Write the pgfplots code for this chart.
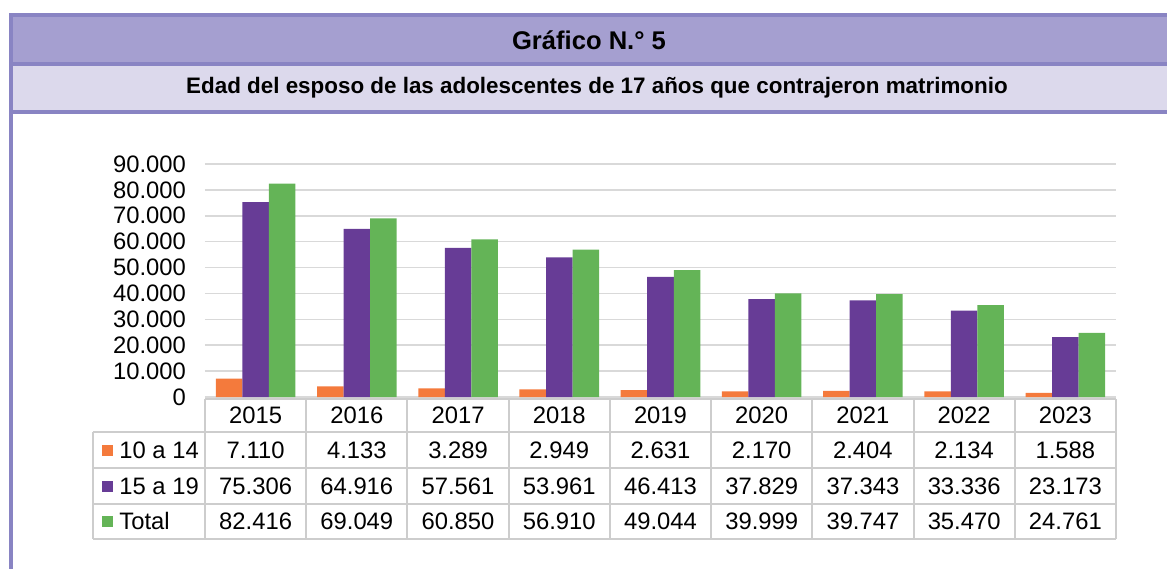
\documentclass[border=0pt]{standalone}
\usepackage{pgfplots}
\pgfplotsset{compat=1.18}
\usepackage{fontspec}
\setmainfont{Liberation Sans}
\definecolor{orangeB}{HTML}{F47A3C}
\definecolor{purpleB}{HTML}{673C96}
\definecolor{greenB}{HTML}{64B457}
\definecolor{frameline}{HTML}{8984C3}
\definecolor{bandA}{HTML}{A59FD0}
\definecolor{bandB}{HTML}{DCD9EC}
\definecolor{gridc}{HTML}{D9D9D9}
\definecolor{tabc}{HTML}{CDCDCD}
\begin{document}
\begin{tikzpicture}
\begin{axis}[
  at={(0,0)}, anchor=south west,
  scale only axis, width=455.5pt, height=116.5pt,
  xmin=-0.5, xmax=8.5, ymin=0, ymax=90000,
  ytick={0,10000,...,90000}, xtick=\empty,
  scaled y ticks=false,
  axis line style={draw=none},
  major tick length=0pt,
  ymajorgrids, grid style={gridc, line width=0.8pt},
  yticklabel style={font=\fontsize{11.9}{13}\selectfont, xshift=-6pt},
  /pgf/number format/.cd, 1000 sep={.}, assume math mode=true,
]
\addplot[ybar, bar width=0.262, bar shift=-0.262, fill=orangeB, draw=none]
  coordinates {(0,7110) (1,4133) (2,3289) (3,2949) (4,2631) (5,2170) (6,2404) (7,2134) (8,1588)};
\addplot[ybar, bar width=0.262, bar shift=0, fill=purpleB, draw=none]
  coordinates {(0,75306) (1,64916) (2,57561) (3,53961) (4,46413) (5,37829) (6,37343) (7,33336) (8,23173)};
\addplot[ybar, bar width=0.262, bar shift=0.262, fill=greenB, draw=none]
  coordinates {(0,82416) (1,69049) (2,60850) (3,56910) (4,49044) (5,39999) (6,39747) (7,35470) (8,24761)};
\end{axis}
\begin{scope}[x=0.5pt, y=-0.5pt, shift={(-205,-397)}]
  \path (0,0) rectangle (1167,569);
  % frame
  \fill[bandA] (13,16) rectangle (1167,62);
  \fill[bandB] (13,65) rectangle (1167,110);
  \fill[frameline] (9,13) rectangle (1167,16.5);
  \fill[frameline] (9,61.5) rectangle (1167,65.5);
  \fill[frameline] (9,110) rectangle (1167,113.5);
  \fill[frameline] (9,13) rectangle (13,569);
  \node[font=\bfseries\fontsize{12.8}{14}\selectfont] at (589,40) {Gráfico N.° 5};
  \node[font=\bfseries\fontsize{11.2}{13}\selectfont] at (597,88) {Edad del esposo de las adolescentes de 17 años que contrajeron matrimonio};
  % table lines
  \begin{scope}[draw=tabc, line width=1pt]
    \draw (205,399) -- (1116,399);
    \foreach \yy in {432,468,503.5,538.5} \draw (93,\yy) -- (1116,\yy);
    \draw (93,432) -- (93,538.5);
    \foreach \k in {0,...,9} \draw ({205+101.22*\k},399) -- ({205+101.22*\k},538.5);
  \end{scope}
  \begin{scope}[font=\fontsize{11.9}{13}\selectfont]
    \foreach \v [count=\i from 0] in {2015,2016,2017,2018,2019,2020,2021,2022,2023}
      \node at ({255.6+101.22*\i},415.5) {\v};
    \foreach \v [count=\i from 0] in {7.110,4.133,3.289,2.949,2.631,2.170,2.404,2.134,1.588}
      \node at ({255.6+101.22*\i},450) {\v};
    \foreach \v [count=\i from 0] in {75.306,64.916,57.561,53.961,46.413,37.829,37.343,33.336,23.173}
      \node at ({255.6+101.22*\i},486) {\v};
    \foreach \v [count=\i from 0] in {82.416,69.049,60.850,56.910,49.044,39.999,39.747,35.470,24.761}
      \node at ({255.6+101.22*\i},521) {\v};
    \fill[orangeB] (102,444.5) rectangle (113,455.5);
    \fill[purpleB] (102,480.5) rectangle (113,491.5);
    \fill[greenB] (102,515.5) rectangle (113,526.5);
    \node[anchor=west, inner sep=0pt] at (119,450) {10 a 14};
    \node[anchor=west, inner sep=0pt] at (119,486) {15 a 19};
    \node[anchor=west, inner sep=0pt] at (119,521) {Total};
  \end{scope}
\end{scope}
\end{tikzpicture}
\end{document}
